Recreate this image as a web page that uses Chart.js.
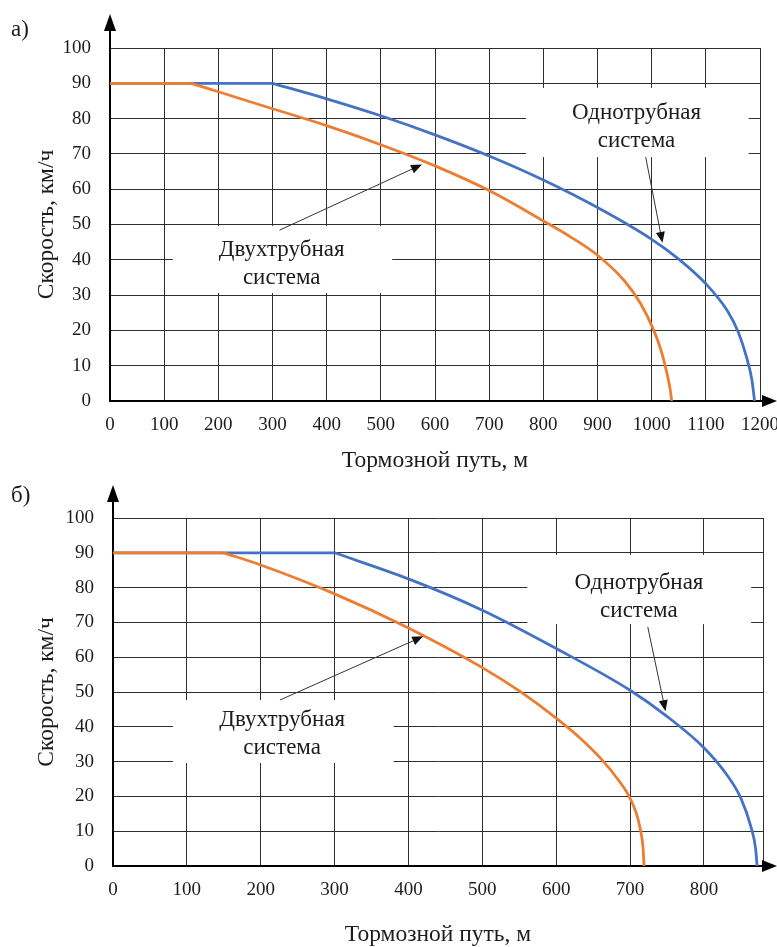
<!DOCTYPE html>
<html>
<head>
<meta charset="utf-8">
<script src="https://cdn.jsdelivr.net/npm/chart.js@4.4.1/dist/chart.umd.min.js"></script>
<style>
  body { margin: 0; background: #fff; width: 777px; height: 947px; overflow: hidden; position: relative; }
  .panel { position: absolute; left: 0; width: 777px; }
  #wrap-a { top: 0; height: 473px; }
  #wrap-b { top: 473px; height: 474px; }
  .tag { position: absolute; left: 11px; font: 23px "Liberation Serif", serif; color: #1c1c1c; }
</style>
</head>
<body>
<div class="panel" id="wrap-a"><canvas id="chart-a" width="777" height="473"></canvas></div>
<div class="panel" id="wrap-b"><canvas id="chart-b" width="777" height="474"></canvas></div>
<div class="tag" style="top:16px">а)</div>
<div class="tag" style="top:482px">б)</div>
<script>
// panel а)
const distA_two  = [0, 150, 200, 300, 400, 500, 600, 700, 800, 850, 900, 950, 980, 1004, 1018, 1028, 1034, 1037];
const speedA_two = [90, 90, 87.6, 82.8, 78, 72.6, 66.6, 59.6, 51, 46.5, 41.3, 34, 27.5, 20, 14, 8, 3.5, 0];
const distA_one  = [0, 300, 400, 500, 600, 700, 800, 900, 1000, 1050, 1100, 1140, 1160, 1175, 1185, 1190];
const speedA_one = [90, 90, 85.6, 80.8, 75.4, 69.4, 62.6, 54.8, 45.8, 40.2, 33.2, 25.5, 19.5, 12.5, 6, 0];
// panel б)
const distB_two  = [0, 150, 200, 300, 400, 500, 550, 600, 630, 662, 685, 698, 708, 714, 717.5, 719];
const speedB_two = [90, 90, 86.5, 78.2, 68.4, 57, 50.3, 42.5, 37.2, 30.5, 24.5, 20.3, 15.5, 10.5, 5.5, 0];
const distB_one  = [0, 300, 400, 500, 600, 700, 750, 800, 830, 850, 864, 870, 872];
const speedB_one = [90, 90, 82.5, 73.5, 62.5, 50.5, 43, 34, 26.5, 19.5, 11, 5, 0];

const speedTicks = [0, 10, 20, 30, 40, 50, 60, 70, 80, 90, 100];
const distTicksA = [0, 100, 200, 300, 400, 500, 600, 700, 800, 900, 1000, 1100, 1200];
const distTicksB = [0, 100, 200, 300, 400, 500, 600, 700, 800];

const labelOne = ['Однотрубная', 'система'];
const labelTwo = ['Двухтрубная', 'система'];
const xTitle = 'Тормозной путь, м';
const yTitle = 'Скорость, км/ч';

const BLUE = '#4472C4';
const ORANGE = '#ED7D31';
const INK = '#1c1c1c';
const SERIF = '"Liberation Serif", "Times New Roman", serif';

// flat start is a straight run, the braking part is a smooth curve
function lineSets(xs, vs, color) {
  let corner = 0;
  while (corner + 1 < vs.length && vs[corner + 1] === vs[0]) corner++;
  const pts = xs.map((x, i) => ({x: x, y: vs[i]}));
  const base = {borderColor: color, borderWidth: 2.8, pointRadius: 0, showLine: true, fill: false};
  return [
    Object.assign({data: pts.slice(0, corner + 1), tension: 0}, base),
    Object.assign({data: pts.slice(corner), cubicInterpolationMode: 'monotone'}, base)
  ];
}

function drawArrow(ctx, x1, y1, x2, y2, len, half) {
  const a = Math.atan2(y2 - y1, x2 - x1);
  ctx.beginPath();
  ctx.moveTo(x1, y1);
  ctx.lineTo(x2 - Math.cos(a) * len * 0.8, y2 - Math.sin(a) * len * 0.8);
  ctx.stroke();
  ctx.beginPath();
  ctx.moveTo(x2, y2);
  ctx.lineTo(x2 - Math.cos(a) * len - Math.sin(a) * half, y2 - Math.sin(a) * len + Math.cos(a) * half);
  ctx.lineTo(x2 - Math.cos(a) * len + Math.sin(a) * half, y2 - Math.sin(a) * len - Math.cos(a) * half);
  ctx.closePath();
  ctx.fill();
}

const decor = {
  id: 'decor',
  beforeDatasetsDraw(chart, args, opts) {
    const {ctx} = chart;
    const sx = chart.scales.x, sy = chart.scales.y;
    ctx.save();
    ctx.fillStyle = '#fff';
    opts.notes.forEach(n => {
      const x0 = sx.getPixelForValue(n.box[0]), x1 = sx.getPixelForValue(n.box[1]);
      const y0 = sy.getPixelForValue(n.box[2]), y1 = sy.getPixelForValue(n.box[3]);
      ctx.fillRect(x0, y0, x1 - x0, y1 - y0);
    });
    ctx.restore();
  },
  afterDraw(chart, args, opts) {
    const {ctx, chartArea} = chart;
    const sx = chart.scales.x, sy = chart.scales.y;
    ctx.save();
    // axis arrows
    ctx.strokeStyle = '#000';
    ctx.fillStyle = '#000';
    ctx.lineWidth = 2;
    ctx.beginPath();
    ctx.moveTo(chartArea.left, chartArea.top);
    ctx.lineTo(chartArea.left, opts.tipY + 10);
    ctx.moveTo(chartArea.right, chartArea.bottom);
    ctx.lineTo(chart.width - 10, chartArea.bottom);
    ctx.stroke();
    ctx.beginPath();
    ctx.moveTo(chartArea.left, opts.tipY);
    ctx.lineTo(chartArea.left - 6, opts.tipY + 17);
    ctx.lineTo(chartArea.left + 6, opts.tipY + 17);
    ctx.closePath();
    ctx.fill();
    ctx.beginPath();
    ctx.moveTo(chart.width, chartArea.bottom);
    ctx.lineTo(chart.width - 15, chartArea.bottom - 6);
    ctx.lineTo(chart.width - 15, chartArea.bottom + 6);
    ctx.closePath();
    ctx.fill();

    // callouts
    ctx.font = '23px ' + SERIF;
    ctx.textAlign = 'center';
    ctx.textBaseline = 'middle';
    opts.notes.forEach(n => {
      ctx.fillStyle = INK;
      n.lines.forEach((t, i) => {
        ctx.fillText(t, sx.getPixelForValue(n.at[0]), sy.getPixelForValue(n.at[1]) + i * 28);
      });
      ctx.strokeStyle = '#333';
      ctx.fillStyle = '#111';
      ctx.lineWidth = 1;
      drawArrow(ctx,
        sx.getPixelForValue(n.from[0]), sy.getPixelForValue(n.from[1]),
        sx.getPixelForValue(n.to[0]), sy.getPixelForValue(n.to[1]), 11, 4.5);
    });
    ctx.restore();
  }
};

function makeChart(id, p) {
  const tickFont = {family: SERIF, size: 19};
  const titleFont = {family: SERIF, size: 23.5, lineHeight: 1};
  return new Chart(document.getElementById(id), {
    type: 'scatter',
    data: {datasets: lineSets(p.twoX, p.twoV, ORANGE).concat(lineSets(p.oneX, p.oneV, BLUE))},
    plugins: [decor],
    options: {
      responsive: false,
      animation: false,
      events: [],
      layout: {padding: {left: 0, top: p.top, right: p.right, bottom: 0}},
      plugins: {
        legend: {display: false},
        tooltip: {enabled: false},
        decor: {tipY: p.tipY, notes: p.notes}
      },
      scales: {
        x: {
          type: 'linear', min: 0, max: p.xMax,
          afterBuildTicks: s => { s.ticks = p.xTicks.concat(p.xEdge ? [p.xEdge] : []).map(v => ({value: v})); },
          afterFit: s => { s.height = p.xHeight; s.paddingLeft = 0; s.paddingRight = 0; },
          grid: {color: '#2e2e2e', lineWidth: 1, drawTicks: false},
          border: {display: true, color: '#000', width: 2},
          ticks: {
            font: tickFont, color: INK, padding: 13, maxRotation: 0, autoSkip: false,
            callback: v => p.xTicks.includes(v) ? String(v) : ''
          },
          title: {display: true, text: xTitle, font: titleFont, color: INK, padding: {top: 0, bottom: p.xTitlePad}}
        },
        y: {
          type: 'linear', min: 0, max: 100,
          afterBuildTicks: s => { s.ticks = speedTicks.map(v => ({value: v})); },
          afterFit: s => { s.width = p.yWidth; },
          grid: {color: '#2e2e2e', lineWidth: 1, drawTicks: false},
          border: {display: true, color: '#000', width: 2},
          ticks: {font: tickFont, color: INK, padding: 19},
          title: {display: true, text: yTitle, font: titleFont, color: INK, padding: {top: 35, bottom: 0}}
        }
      }
    }
  });
}

makeChart('chart-a', {
  twoX: distA_two, twoV: speedA_two, oneX: distA_one, oneV: speedA_one,
  xMax: 1200, xTicks: distTicksA, xEdge: null,
  top: 48, right: 17, yWidth: 110, xHeight: 72, xTitlePad: 0, tipY: 14,
  notes: [
    {lines: labelOne, box: [768, 1179, 88.7, 69.1], at: [972, 81.6], from: [989, 69.1], to: [1020, 44.8]},
    {lines: labelTwo, box: [116, 521, 49.6, 30.6], at: [317, 42.8], from: [313, 48.4], to: [576, 67]}
  ]
});

makeChart('chart-b', {
  twoX: distB_two, twoV: speedB_two, oneX: distB_one, oneV: speedB_one,
  xMax: 880, xTicks: distTicksB, xEdge: 880,
  top: 45, right: 14, yWidth: 113, xHeight: 81, xTitlePad: 0, tipY: 12,
  notes: [
    {lines: labelOne, box: [561, 864, 89.4, 69.5], at: [712, 81.3], from: [724, 68.7], to: [748, 44.5]},
    {lines: labelTwo, box: [81, 380, 47.7, 29.6], at: [229, 42], from: [226, 47.7], to: [420, 66]}
  ]
});
</script>
</body>
</html>
